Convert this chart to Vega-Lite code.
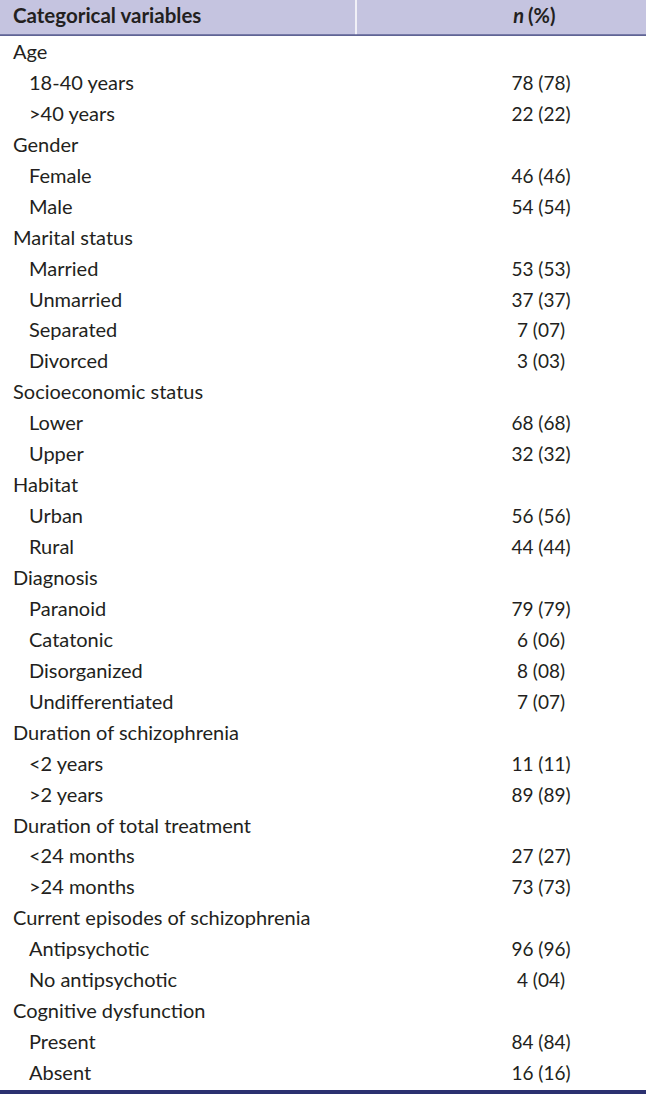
{
  "$schema": "https://vega.github.io/schema/vega-lite/v6.json",
  "width": 646,
  "height": 1094,
  "padding": 0,
  "autosize": {"type": "none"},
  "background": "white",
  "config": {"view": {"stroke": null}, "font": "Lato"},
  "datasets": {
    "rows": [
      {"i": 0, "label": "Age", "n": "", "lvl": 0},
      {"i": 1, "label": "18-40 years", "n": "78 (78)", "lvl": 1},
      {"i": 2, "label": ">40 years", "n": "22 (22)", "lvl": 1},
      {"i": 3, "label": "Gender", "n": "", "lvl": 0},
      {"i": 4, "label": "Female", "n": "46 (46)", "lvl": 1},
      {"i": 5, "label": "Male", "n": "54 (54)", "lvl": 1},
      {"i": 6, "label": "Marital status", "n": "", "lvl": 0},
      {"i": 7, "label": "Married", "n": "53 (53)", "lvl": 1},
      {"i": 8, "label": "Unmarried", "n": "37 (37)", "lvl": 1},
      {"i": 9, "label": "Separated", "n": "7 (07)", "lvl": 1},
      {"i": 10, "label": "Divorced", "n": "3 (03)", "lvl": 1},
      {"i": 11, "label": "Socioeconomic status", "n": "", "lvl": 0},
      {"i": 12, "label": "Lower", "n": "68 (68)", "lvl": 1},
      {"i": 13, "label": "Upper", "n": "32 (32)", "lvl": 1},
      {"i": 14, "label": "Habitat", "n": "", "lvl": 0},
      {"i": 15, "label": "Urban", "n": "56 (56)", "lvl": 1},
      {"i": 16, "label": "Rural", "n": "44 (44)", "lvl": 1},
      {"i": 17, "label": "Diagnosis", "n": "", "lvl": 0},
      {"i": 18, "label": "Paranoid", "n": "79 (79)", "lvl": 1},
      {"i": 19, "label": "Catatonic", "n": "6 (06)", "lvl": 1},
      {"i": 20, "label": "Disorganized", "n": "8 (08)", "lvl": 1},
      {"i": 21, "label": "Undifferentiated", "n": "7 (07)", "lvl": 1},
      {"i": 22, "label": "Duration of schizophrenia", "n": "", "lvl": 0},
      {"i": 23, "label": "<2 years", "n": "11 (11)", "lvl": 1},
      {"i": 24, "label": ">2 years", "n": "89 (89)", "lvl": 1},
      {"i": 25, "label": "Duration of total treatment", "n": "", "lvl": 0},
      {"i": 26, "label": "<24 months", "n": "27 (27)", "lvl": 1},
      {"i": 27, "label": ">24 months", "n": "73 (73)", "lvl": 1},
      {"i": 28, "label": "Current episodes of schizophrenia", "n": "", "lvl": 0},
      {"i": 29, "label": "Antipsychotic", "n": "96 (96)", "lvl": 1},
      {"i": 30, "label": "No antipsychotic", "n": "4 (04)", "lvl": 1},
      {"i": 31, "label": "Cognitive dysfunction", "n": "", "lvl": 0},
      {"i": 32, "label": "Present", "n": "84 (84)", "lvl": 1},
      {"i": 33, "label": "Absent", "n": "16 (16)", "lvl": 1}
    ]
  },
  "layer": [
    {
      "data": {"values": [{}]},
      "mark": {"type": "rect", "color": "#c5c4e0"},
      "encoding": {
        "x": {"datum": 0, "type": "quantitative", "scale": {"domain": [0, 646], "range": [0, 646], "nice": false, "zero": false}, "axis": null},
        "x2": {"datum": 646},
        "y": {"datum": -1.713, "type": "quantitative", "scale": {"domain": [-1.713, 33.645], "range": [0, 1094], "nice": false, "zero": false}, "axis": null},
        "y2": {"datum": -0.58}
      }
    },
    {
      "data": {"values": [{}]},
      "mark": {"type": "rule", "color": "#ffffff", "strokeWidth": 1.5},
      "encoding": {
        "x": {"datum": 356, "type": "quantitative"},
        "y": {"datum": -1.713, "type": "quantitative"},
        "y2": {"datum": -0.6}
      }
    },
    {
      "data": {"values": [{}]},
      "mark": {"type": "rule", "color": "#2b3170", "strokeWidth": 1.2},
      "encoding": {
        "x": {"datum": 0, "type": "quantitative"},
        "x2": {"datum": 646},
        "y": {"datum": -0.58, "type": "quantitative"}
      }
    },
    {
      "data": {"values": [{}]},
      "mark": {"type": "rect", "color": "#2b3170"},
      "encoding": {
        "x": {"datum": 0, "type": "quantitative"},
        "x2": {"datum": 646},
        "y": {"datum": 33.515, "type": "quantitative"},
        "y2": {"datum": 33.645}
      }
    },
    {
      "data": {"values": [{"t": "Categorical variables"}]},
      "mark": {"type": "text", "align": "left", "baseline": "middle", "fontSize": 20.5, "fontWeight": "bold", "color": "#231f20"},
      "encoding": {
        "x": {"datum": 13, "type": "quantitative"},
        "y": {"datum": -1.16, "type": "quantitative"},
        "text": {"field": "t"}
      }
    },
    {
      "data": {"values": [{"t": "n"}]},
      "mark": {"type": "text", "align": "right", "baseline": "middle", "fontSize": 20, "fontStyle": "italic", "fontWeight": "bold", "color": "#231f20"},
      "encoding": {
        "x": {"datum": 524, "type": "quantitative"},
        "y": {"datum": -1.16, "type": "quantitative"},
        "text": {"field": "t"}
      }
    },
    {
      "data": {"values": [{"t": "(%)"}]},
      "mark": {"type": "text", "align": "left", "baseline": "middle", "fontSize": 20, "fontWeight": "bold", "color": "#231f20"},
      "encoding": {
        "x": {"datum": 528, "type": "quantitative"},
        "y": {"datum": -1.16, "type": "quantitative"},
        "text": {"field": "t"}
      }
    },
    {
      "data": {"name": "rows"},
      "transform": [{"filter": "datum.lvl == 0"}],
      "mark": {"type": "text", "align": "left", "baseline": "middle", "fontSize": 20, "color": "#231f20"},
      "encoding": {
        "x": {"datum": 13, "type": "quantitative"},
        "y": {"field": "i", "type": "quantitative"},
        "text": {"field": "label"}
      }
    },
    {
      "data": {"name": "rows"},
      "transform": [{"filter": "datum.lvl == 1"}],
      "mark": {"type": "text", "align": "left", "baseline": "middle", "fontSize": 20, "color": "#231f20"},
      "encoding": {
        "x": {"datum": 29, "type": "quantitative"},
        "y": {"field": "i", "type": "quantitative"},
        "text": {"field": "label"}
      }
    },
    {
      "data": {"name": "rows"},
      "transform": [{"filter": "datum.lvl == 1"}],
      "mark": {"type": "text", "align": "center", "baseline": "middle", "fontSize": 19, "color": "#231f20"},
      "encoding": {
        "x": {"datum": 541, "type": "quantitative"},
        "y": {"field": "i", "type": "quantitative"},
        "text": {"field": "n"}
      }
    }
  ]
}
